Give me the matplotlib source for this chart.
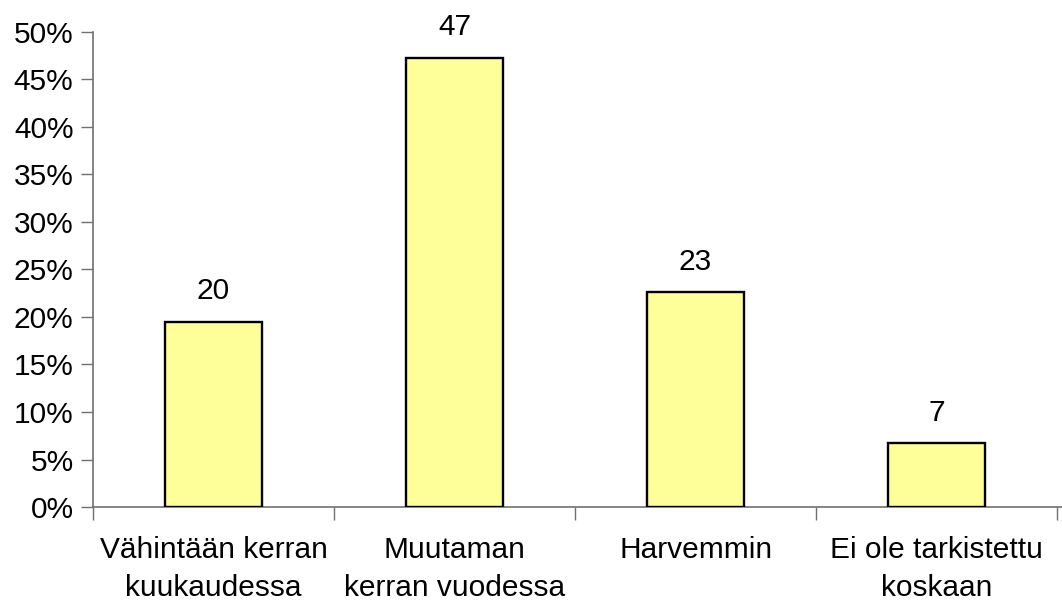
import matplotlib
matplotlib.use("Agg")
import matplotlib.pyplot as plt
from matplotlib.ticker import FuncFormatter

categories = ["Vähintään kerran\nkuukaudessa", "Muutaman\nkerran vuodessa",
              "Harvemmin", "Ei ole tarkistettu\nkoskaan"]
shares = [19.5, 47.3, 22.6, 6.7]  # percent
labels = ["20", "47", "23", "7"]

plt.rcParams["font.family"] = ["Liberation Sans", "DejaVu Sans"]
plt.rcParams["font.size"] = 21.5

fig = plt.figure(figsize=(10.62, 6.01), dpi=100)
ax = fig.add_axes([0.0876, 0.1564, 0.9124, 0.7904])

x = range(len(categories))
bars = ax.bar(x, shares, width=0.40, color="#FFFF99", edgecolor="black",
              linewidth=1.7, zorder=3)

for bar, lab in zip(bars, labels):
    ax.annotate(lab, (bar.get_x() + bar.get_width() / 2, bar.get_height()),
                xytext=(0, 12), textcoords="offset points",
                ha="center", va="bottom", fontsize=21.5)

ax.set_ylim(0, 50)
ax.set_yticks(range(0, 51, 5))
ax.yaxis.set_major_formatter(FuncFormatter(lambda v, p: f"{v:.0f}%"))
ax.set_xlim(-0.5, 3.52)

ax.set_xticks(list(x))
ax.set_xticklabels(categories, linespacing=1.45)
ax.set_xticks([-0.5, 0.5, 1.5, 2.5, 3.5], minor=True)
ax.tick_params(axis="x", which="major", length=0, pad=21)
ax.tick_params(axis="x", which="minor", length=9, width=1, color="#707070")
ax.tick_params(axis="y", length=9, width=1, color="#707070", pad=5)

for side in ["top", "right"]:
    ax.spines[side].set_visible(False)
for side in ["left", "bottom"]:
    ax.spines[side].set_color("#707070")
    ax.spines[side].set_linewidth(1.2)

fig.savefig("out.png", dpi=100)
